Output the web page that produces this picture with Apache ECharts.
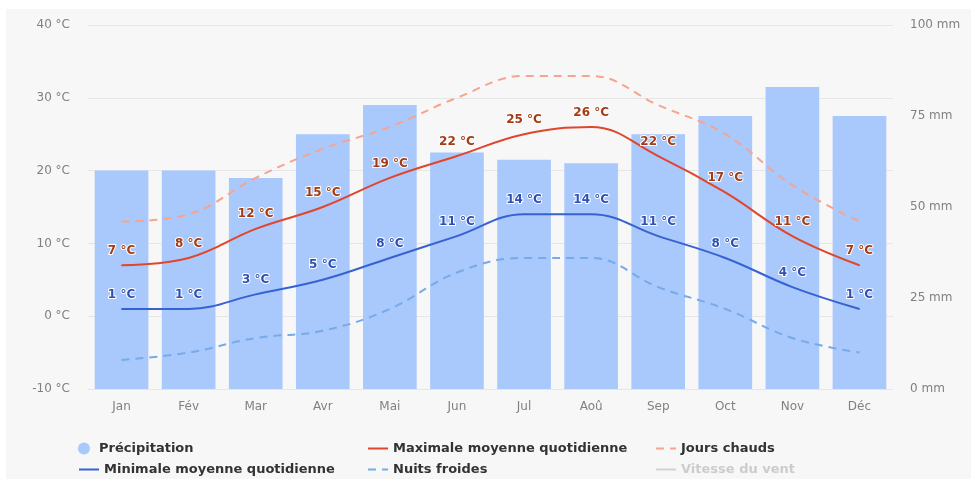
<!DOCTYPE html>
<html>
<head>
<meta charset="utf-8">
<script src="https://cdn.jsdelivr.net/npm/echarts@6/dist/echarts.min.js"></script>
<style>
  html, body { margin: 0; padding: 0; background: #fff; }
  #chart { width: 971px; height: 479px; }
</style>
</head>
<body>
<div id="chart"></div>
<script>
var months = ['Jan', 'Fév', 'Mar', 'Avr', 'Mai', 'Jun', 'Jul', 'Aoû', 'Sep', 'Oct', 'Nov', 'Déc'];
var precipitation = [60, 60, 58, 70, 78, 65, 63, 62, 70, 75, 83, 75];
var maxDaily = [7, 8, 12, 15, 19, 22, 25, 26, 22, 17, 11, 7];
var minDaily = [1, 1, 3, 5, 8, 11, 14, 14, 11, 8, 4, 1];
var hotDays = [13, 14, 19, 23, 26, 30, 33, 33, 29, 25, 18, 13];
var coldNights = [-6, -5, -3, -2, 1, 6, 8, 8, 4, 1, -3, -5];
var tempTicks = [-10, 0, 10, 20, 30, 40];
var mmTicks = [0, 25, 50, 75, 100];

var font = '"DejaVu Sans", Verdana, sans-serif';
var chart = echarts.init(document.getElementById('chart'));

function tempLabel(color) {
  return {
    show: true,
    position: 'top',
    distance: 8,
    formatter: '{c} °C',
    color: color,
    fontFamily: font,
    fontWeight: 'bold',
    fontSize: 12,
    textBorderColor: '#fff',
    textBorderWidth: 2
  };
}

// one legend per item so the three columns x two rows grid can be placed
function legendItem(name, left, top, isCircle, inactive) {
  var l = {
    left: left, top: top, itemWidth: 20, itemHeight: 12,
    data: [isCircle ? { name: name, icon: 'circle' } : name],
    textStyle: { fontFamily: font, fontWeight: 'bold', fontSize: 13, color: '#333' }
  };
  if (!isCircle) l.itemStyle = { opacity: 0 };
  if (inactive) {
    l.inactiveColor = '#ccc';
    l.selected = {};
    l.selected[name] = false;
  }
  return l;
}

chart.setOption({
  animation: false,
  backgroundColor: '#fff',
  textStyle: { fontFamily: font },
  graphic: [{
    type: 'rect',
    z: -10,
    shape: { x: 6, y: 9, width: 965, height: 470 },
    style: { fill: '#f7f7f7' }
  }],
  grid: { left: 88, right: 78, top: 25, bottom: 90 },
  legend: [
    legendItem('Précipitation', 73, 437, true),
    legendItem('Minimale moyenne quotidienne', 73, 458),
    legendItem('Maximale moyenne quotidienne', 362, 437),
    legendItem('Nuits froides', 362, 458),
    legendItem('Jours chauds', 650, 437),
    legendItem('Vitesse du vent', 650, 458, false, true)
  ],
  xAxis: {
    type: 'category',
    data: months,
    axisTick: { show: false },
    axisLine: { lineStyle: { color: '#e6e6e6' } },
    axisLabel: { color: '#808080', fontSize: 12, margin: 12, fontFamily: font }
  },
  yAxis: [
    {
      type: 'value',
      min: tempTicks[0],
      max: tempTicks[tempTicks.length - 1],
      interval: 10,
      axisLabel: { formatter: '{value} °C', color: '#808080', fontSize: 12, margin: 18, fontFamily: font },
      splitLine: { lineStyle: { color: '#e6e6e6' } }
    },
    {
      type: 'value',
      min: mmTicks[0],
      max: mmTicks[mmTicks.length - 1],
      interval: 25,
      axisLabel: { formatter: '{value} mm', color: '#808080', fontSize: 12, margin: 17, fontFamily: font },
      splitLine: { show: false }
    }
  ],
  series: [
    {
      name: 'Précipitation',
      type: 'bar',
      yAxisIndex: 1,
      data: precipitation,
      barCategoryGap: '20%',
      itemStyle: { color: '#a9c8fc' },
      z: 1
    },
    {
      name: 'Minimale moyenne quotidienne',
      type: 'line',
      data: minDaily,
      smooth: 0.4,
      symbol: 'circle',
      symbolSize: 1,
      lineStyle: { color: '#3762d2', width: 2 },
      itemStyle: { color: '#3762d2' },
      label: tempLabel('#2f4fb5'),
      z: 4
    },
    {
      name: 'Maximale moyenne quotidienne',
      type: 'line',
      data: maxDaily,
      smooth: 0.4,
      symbol: 'circle',
      symbolSize: 1,
      lineStyle: { color: '#e0462b', width: 2 },
      itemStyle: { color: '#e0462b' },
      label: tempLabel('#a33c14'),
      z: 4
    },
    {
      name: 'Jours chauds',
      type: 'line',
      data: hotDays,
      smooth: 0.4,
      symbol: 'none',
      lineStyle: { color: '#f6a48f', width: 2, type: [8, 6] },
      itemStyle: { color: '#f6a48f' },
      z: 3
    },
    {
      name: 'Nuits froides',
      type: 'line',
      data: coldNights,
      smooth: 0.4,
      symbol: 'none',
      lineStyle: { color: '#76aae8', width: 2, type: [8, 6] },
      itemStyle: { color: '#76aae8' },
      z: 3
    },
    {
      name: 'Vitesse du vent',
      type: 'line',
      data: [],
      symbol: 'none',
      lineStyle: { color: '#999', width: 2 },
      itemStyle: { color: '#999' }
    }
  ]
});
</script>
</body>
</html>
